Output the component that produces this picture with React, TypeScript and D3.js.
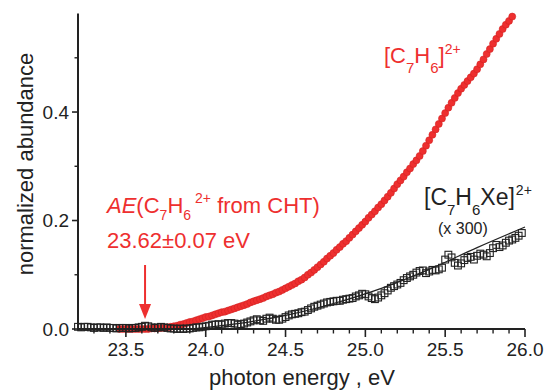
import * as d3 from "d3";

// ── Data ──────────────────────────────────────────────────
// photon energy grid (eV) for each series: start + i * step
const RED_START = 23.46;
const BLACK_START = 23.2;
const STEP = 0.02;

// [C7H6]2+ normalized abundance (red filled circles)
const RED_VALUES = [
  0.000, 0.000, 0.000, 0.000, 0.000, 0.000, 0.000, 0.000, 0.000, 0.000,
  0.001, 0.001, 0.001, 0.002, 0.002, 0.003, 0.004, 0.005, 0.006, 0.008,
  0.009, 0.011, 0.013, 0.014, 0.016, 0.018, 0.020, 0.022, 0.023, 0.025,
  0.027, 0.029, 0.031, 0.032, 0.034, 0.036, 0.038, 0.040, 0.042, 0.044,
  0.046, 0.049, 0.051, 0.053, 0.055, 0.057, 0.060, 0.062, 0.064, 0.067,
  0.069, 0.072, 0.075, 0.078, 0.081, 0.084, 0.088, 0.091, 0.095, 0.100,
  0.104, 0.109, 0.114, 0.119, 0.124, 0.130, 0.135, 0.140, 0.146, 0.151,
  0.157, 0.162, 0.168, 0.174, 0.180, 0.186, 0.192, 0.198, 0.205, 0.211,
  0.217, 0.224, 0.230, 0.237, 0.244, 0.251, 0.259, 0.267, 0.274, 0.281,
  0.289, 0.296, 0.304, 0.311, 0.319, 0.328, 0.338, 0.348, 0.358, 0.368,
  0.378, 0.388, 0.398, 0.408, 0.417, 0.426, 0.435, 0.443, 0.450, 0.457,
  0.464, 0.471, 0.479, 0.488, 0.497, 0.507, 0.516, 0.526, 0.535, 0.544,
  0.553, 0.561, 0.568, 0.576,
];

// [C7H6Xe]2+ (x 300) normalized abundance (black open squares)
const BLACK_VALUES = [
  0.004, 0.003, 0.004, 0.004, 0.003, 0.002, 0.003, 0.003, 0.002, 0.003,
  0.002, 0.002, 0.001, 0.002, 0.002, 0.002, 0.001, 0.002, 0.002, 0.003,
  0.004, 0.006, 0.005, 0.003, 0.002, 0.003, 0.004, 0.003, 0.002, 0.001,
  0.001, 0.000, 0.001, 0.000, 0.001, 0.001, 0.002, 0.003, 0.003, 0.004,
  0.005, 0.006, 0.008, 0.008, 0.009, 0.008, 0.010, 0.011, 0.011, 0.010,
  0.008, 0.009, 0.010, 0.012, 0.014, 0.016, 0.018, 0.016, 0.015, 0.019,
  0.021, 0.019, 0.017, 0.017, 0.019, 0.022, 0.025, 0.027, 0.028, 0.029,
  0.031, 0.032, 0.035, 0.038, 0.041, 0.043, 0.045, 0.047, 0.049, 0.050,
  0.051, 0.052, 0.052, 0.054, 0.055, 0.056, 0.057, 0.060, 0.062, 0.065,
  0.064, 0.060, 0.057, 0.055, 0.058, 0.062, 0.066, 0.071, 0.076, 0.079,
  0.082, 0.085, 0.090, 0.094, 0.097, 0.100, 0.104, 0.107, 0.108, 0.103,
  0.106, 0.109, 0.108, 0.110, 0.113, 0.128, 0.137, 0.132, 0.122, 0.117,
  0.121, 0.127, 0.131, 0.133, 0.128, 0.135, 0.139, 0.137, 0.134, 0.140,
  0.149, 0.155, 0.151, 0.154, 0.159, 0.163, 0.165, 0.168, 0.172, 0.177,
];

// fit line through the black series
const FIT_E = [23.9, 24.2, 24.5, 24.8, 25.1, 25.4, 25.7, 26.0];
const FIT_V = [0.0, 0.01, 0.025, 0.047, 0.075, 0.11, 0.15, 0.188];

const X_MAJOR = [23.5, 24.0, 24.5, 25.0, 25.5, 26.0];
const X_MINOR = [23.3, 23.4, 23.6, 23.7, 23.8, 23.9, 24.1, 24.2, 24.3, 24.4,
  24.6, 24.7, 24.8, 24.9, 25.1, 25.2, 25.3, 25.4, 25.6, 25.7, 25.8, 25.9];
const Y_MAJOR = [0.0, 0.2, 0.4];
const Y_MINOR = [0.1, 0.3, 0.5];

const AE_VALUE = 23.62;

// ── Layout ────────────────────────────────────────────────
const W = 544;
const H = 391;
const FONT = "'Liberation Sans', Arial, Helvetica, sans-serif";
const RED = "#ee2f2f";
const INK = "#222";

const x = d3.scaleLinear().domain([23.2, 26.0]).range([78, 525]);
const y = d3.scaleLinear().domain([0, 0.58]).range([329, 14.4]);

const redPts = RED_VALUES.map((v, i) => [RED_START + i * STEP, v]);
const blackPts = BLACK_VALUES.map((v, i) => [BLACK_START + i * STEP, v]);
const fitLine = d3.line<number>()
  .x((_, i) => x(FIT_E[i]))
  .y((d) => y(d))
  .curve(d3.curveMonotoneX)(FIT_V);

export default function App() {
  const y0 = y(0);
  const arrowX = x(AE_VALUE);
  const SQ = 6.8;

  return (
    <div style={{ position: "absolute", left: 0, top: 0 }}>
      <svg width={W} height={H} viewBox={`0 0 ${W} ${H}`} style={{ display: "block", background: "#fff" }}
        fontFamily={FONT}>

        {/* red series */}
        {redPts.map(([e, v], i) => (
          <circle key={`r${i}`} cx={x(e)} cy={y(v)} r={3.5}
            fill={RED} stroke="#d42222" strokeWidth={0.6} />
        ))}

        {/* black series */}
        {blackPts.map(([e, v], i) => (
          <rect key={`b${i}`} x={x(e) - SQ / 2} y={y(v) - SQ / 2} width={SQ} height={SQ}
            fill="none" stroke={INK} strokeWidth={1.1} />
        ))}
        <path d={fitLine ?? ""} fill="none" stroke={INK} strokeWidth={1.2} />

        {/* axes */}
        <line x1={x.range()[0]} x2={x.range()[1]} y1={y0} y2={y0} stroke={INK} strokeWidth={2} />
        <line x1={x.range()[0]} x2={x.range()[0]} y1={y.range()[1] - 1} y2={y0 + 1} stroke={INK} strokeWidth={2} />

        {X_MAJOR.map((t) => (
          <g key={`xm${t}`}>
            <line x1={x(t)} x2={x(t)} y1={y0} y2={y0 + 8} stroke={INK} strokeWidth={1.6} />
            <text x={x(t)} y={356} textAnchor="middle" fontSize={19} fill={INK}>{t.toFixed(1)}</text>
          </g>
        ))}
        {X_MINOR.map((t) => (
          <line key={`xn${t}`} x1={x(t)} x2={x(t)} y1={y0} y2={y0 + 4.5} stroke={INK} strokeWidth={1.4} />
        ))}
        {Y_MAJOR.map((t) => (
          <g key={`ym${t}`}>
            <line x1={x.range()[0] - 6} x2={x.range()[0]} y1={y(t)} y2={y(t)} stroke={INK} strokeWidth={1.6} />
            <text x={69} y={y(t)} dy="0.36em" textAnchor="end" fontSize={19} fill={INK}>{t.toFixed(1)}</text>
          </g>
        ))}
        {Y_MINOR.map((t) => (
          <line key={`yn${t}`} x1={x.range()[0] - 3.5} x2={x.range()[0]} y1={y(t)} y2={y(t)} stroke={INK} strokeWidth={1.4} />
        ))}

        {/* axis titles */}
        <text x={302} y={385} textAnchor="middle" fontSize={22} fill={INK}>photon energy , eV</text>
        <text transform="translate(33,164) rotate(-90)" textAnchor="middle" fontSize={22} fill={INK}>
          normalized abundance
        </text>

        {/* series labels */}
        <text x={384} y={63} fontSize={22} fill={RED}>
          [C<tspan fontSize={15} dy={10}>7</tspan><tspan dy={-10}>H</tspan><tspan fontSize={15} dy={10}>6</tspan><tspan dy={-10}>]</tspan><tspan fontSize={14} dy={-9}>2+</tspan>
        </text>
        <text x={424} y={205} fontSize={23} fill={INK}>
          [C<tspan fontSize={15} dy={10}>7</tspan><tspan dy={-10}>H</tspan><tspan fontSize={15} dy={10}>6</tspan><tspan dy={-10}>Xe]</tspan><tspan fontSize={14} dx={1} dy={-10}>2+</tspan>
        </text>
        <text x={438} y={234} fontSize={16} fill={INK}>(x 300)</text>

        {/* appearance energy annotation */}
        <text x={107} y={213} fontSize={22} fill={RED}>
          <tspan fontStyle="italic">AE</tspan>(C<tspan fontSize={14} dy={7}>7</tspan><tspan dy={-7}>H</tspan><tspan fontSize={14} dy={7}>6</tspan><tspan fontSize={14} dx={4} dy={-17}>2+</tspan><tspan dy={10}> from CHT)</tspan>
        </text>
        <text x={107} y={248} fontSize={22} fill={RED}>23.62±0.07 eV</text>
        <line x1={arrowX} x2={arrowX} y1={265} y2={308} stroke={RED} strokeWidth={2} />
        <path d={`M${arrowX - 6},${304} L${arrowX + 6},${304} L${arrowX},${319} Z`} fill={RED} />
      </svg>
    </div>
  );
}
